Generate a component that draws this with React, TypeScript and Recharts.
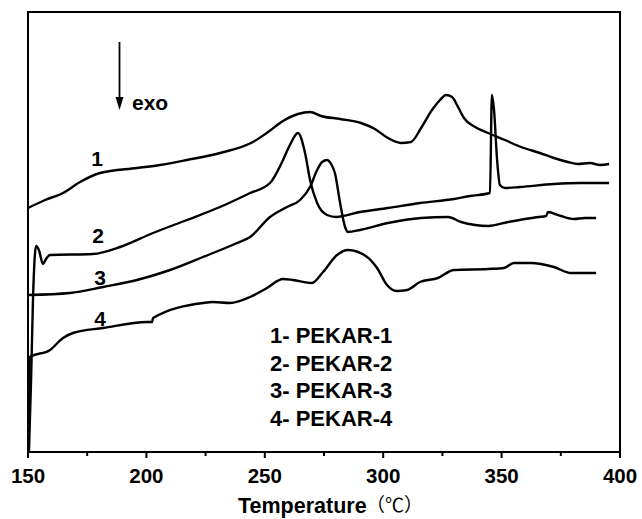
import { LineChart, Line, XAxis, YAxis, ReferenceArea, Customized } from 'recharts';

// temperatures (°C) and heat-flow readings (arbitrary units, offset per curve)
const pekar1T = [150, 157.2, 164.8, 172, 180.4, 196, 205.7, 217.1, 231.1, 245, 251.4, 257.7, 264, 269.1, 273.7, 281.8, 290.6, 296.5, 302, 307.5, 311.7, 316, 320.6, 324, 326.5, 329.1, 331.6, 334.1, 338.8, 344.3, 351.4, 358.2, 366.2, 372.1, 378, 382.3, 387.3, 391.6, 395.4];
const pekar1V = [244, 252, 259, 270, 279, 284, 287, 292, 299, 310, 320, 331, 338, 340, 336, 333, 329, 323, 314, 309, 310, 324, 342, 352, 357, 355, 345, 334, 325, 319, 312, 305, 299, 294, 290, 288, 289, 287, 288];

const pekar2T = [150.4, 151.3, 152.1, 153.4, 154.6, 156.3, 157.6, 159.3, 177.4, 188.9, 202.8, 217.1, 231.1, 243.8, 252.2, 257.7, 260.6, 264, 267, 269.1, 272.1, 276.3, 280.1, 290.2, 302, 315.5, 329.9, 336.7, 345.1, 345.9, 346.8, 348.1, 349.3, 351.4, 357.8, 372.1, 383.1, 395.4];
const pekar2V = [0, 72, 152, 206, 202, 188, 193, 197, 198, 205, 219, 232, 245, 259, 269, 292, 307, 319, 299, 272, 249, 237, 235, 240, 244, 249, 253, 256, 259, 357, 342, 292, 267, 264, 265, 268, 269, 269];

const pekar3T = [150, 167.7, 181.7, 196, 210, 223.9, 238.3, 243.8, 252.2, 259.4, 264.9, 269.1, 272.1, 274.2, 276.3, 278, 279.6, 281.8, 283.9, 285.1, 290.2, 302, 316, 327.4, 332.9, 338.8, 344.3, 352.7, 365.4, 368.8, 369.6, 372.5, 375.1, 380.6, 385.2, 389.9];
const pekar3V = [157, 159, 165, 172, 182, 195, 209, 215, 235, 245, 252, 265, 282, 290, 292, 288, 279, 249, 225, 220, 222, 229, 234, 235, 230, 227, 226, 230, 235, 236, 240, 238, 236, 233, 234, 234];

const pekar4T = [150.2, 150.4, 150.8, 159.3, 164.8, 169, 181.7, 200.3, 202.4, 202.8, 223.9, 228.1, 235.3, 243.8, 250.9, 257.7, 261.9, 269.9, 274.6, 280.5, 285.1, 293.2, 297.4, 301.6, 305.8, 310.1, 315.5, 323.1, 329.9, 344.3, 351, 355.2, 362.4, 372.1, 379.3, 389.9];
const pekar4V = [0, 52, 95, 102, 114, 119, 124, 130, 130, 134, 149, 150, 149, 155, 164, 173, 172, 169, 180, 197, 202, 195, 184, 167, 161, 162, 170, 174, 182, 183, 184, 189, 189, 185, 179, 179];

const xTicks = [150, 175, 200, 225, 250, 275, 300, 325, 350, 375, 400];
const legendLabels = ['1- PEKAR-1', '2- PEKAR-2', '3- PEKAR-3', '4- PEKAR-4'];

const toRows = (ts: number[], vs: number[]) => ts.map((t, i) => ({ t, v: vs[i] }));

const series = [
  toRows(pekar1T, pekar1V),
  toRows(pekar2T, pekar2V),
  toRows(pekar3T, pekar3V),
  toRows(pekar4T, pekar4V),
];

const FONT = '"Liberation Sans", Arial, sans-serif';

const TempTick = (props: any) => {
  const { x, y, payload } = props;
  const major = payload.value % 50 === 0;
  return (
    <g>
      <line x1={x} x2={x} y1={y} y2={y + (major ? 6 : 4)} stroke="#000" strokeWidth={2} />
      {major && (
        <text x={x} y={y + 31} textAnchor="middle" fontFamily={FONT} fontWeight="bold" fontSize={20.5} fill="#000">
          {payload.value}
        </text>
      )}
    </g>
  );
};

// curve numbers, exo arrow, legend and axis title
const Annotations = () => (
  <g fontFamily={FONT} fontWeight="bold" fontSize={21} fill="#000">
    <line x1={119.5} x2={119.5} y1={42} y2={99} stroke="#000" strokeWidth={1.8} />
    <polygon points="115.5,97 123.5,97 119.5,110" fill="#000" />
    <text x={132} y={110}>exo</text>
    <text x={97} y={166} textAnchor="middle">1</text>
    <text x={98} y={243} textAnchor="middle">2</text>
    <text x={100} y={285} textAnchor="middle">3</text>
    <text x={100} y={326} textAnchor="middle">4</text>
    {legendLabels.map((s, i) => (
      <text key={s} x={270} y={343 + i * 27.7} fontSize={22}>{s}</text>
    ))}
    <text x={238} y={513} fontSize={21.5}>Temperature</text>
    <text x={366} y={512} fontFamily='"Noto Sans CJK SC", "DejaVu Serif", serif' fontWeight="normal" fontSize={19}>（℃）</text>
  </g>
);

export default function App() {
  return (
    <div style={{ position: 'absolute', left: 0, top: 0, background: '#fff' }}>
      <LineChart width={642} height={519} margin={{ top: 12, right: 22, left: 28, bottom: 0 }}>
        <XAxis
          dataKey="t"
          type="number"
          domain={[150, 400]}
          ticks={xTicks}
          interval={0}
          allowDataOverflow
          height={67}
          tickSize={0}
          tickMargin={0}
          tickLine={false}
          axisLine={{ stroke: '#000', strokeWidth: 2 }}
          tick={<TempTick />}
        />
        <YAxis type="number" domain={[0, 440]} hide allowDataOverflow />
        <ReferenceArea x1={150} x2={400} y1={0} y2={440} fill="none" stroke="#000" strokeWidth={2} />
        {series.map((d, i) => (
          <Line
            key={i}
            data={d}
            dataKey="v"
            type="monotone"
            stroke="#000"
            strokeWidth={2.4}
            dot={false}
            activeDot={false}
            isAnimationActive={false}
          />
        ))}
        <Customized component={Annotations} />
      </LineChart>
    </div>
  );
}
